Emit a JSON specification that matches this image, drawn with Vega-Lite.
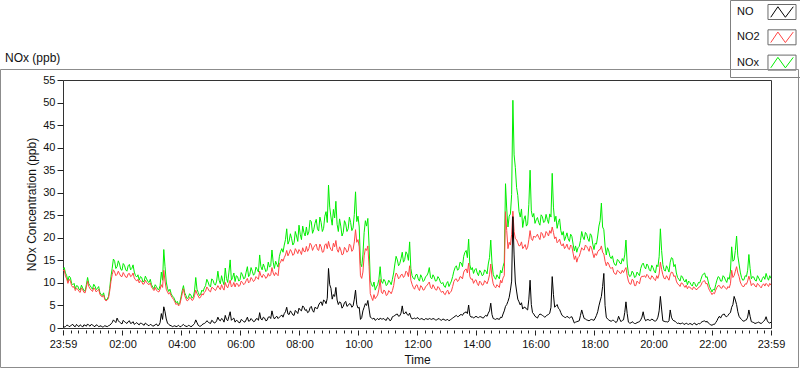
{
  "$schema": "https://vega.github.io/schema/vega-lite/v6.json",
  "autosize": "none",
  "width": 708,
  "height": 248,
  "padding": {"left": 63, "top": 80, "right": 29, "bottom": 41},
  "background": "white",
  "title": {"text": "NOx (ppb)", "anchor": "start", "frame": "group", "dx": -58, "dy": 77, "offset": 0, "baseline": "bottom", "fontSize": 12, "fontWeight": "normal", "font": "Liberation Sans", "color": "#111"},
  "data": {"values": [
    {"m":0,"NOx":13.0,"NO2":12.6,"NO":0.5},{"m":5,"NOx":12.2,"NO2":11.5,"NO":0.3},{"m":10,"NOx":10.4,"NO2":9.9,"NO":0.6},{"m":15,"NOx":11.2,"NO2":10.4,"NO":0.4},{"m":20,"NOx":9.6,"NO2":9.0,"NO":0.8},{"m":25,"NOx":8.7,"NO2":8.3,"NO":0.3},{"m":30,"NOx":9.3,"NO2":8.6,"NO":0.5},{"m":35,"NOx":8.4,"NO2":7.9,"NO":0.7},{"m":40,"NOx":8.9,"NO2":8.5,"NO":0.2},{"m":45,"NOx":8.2,"NO2":7.8,"NO":0.6},
    {"m":50,"NOx":11.2,"NO2":10.4,"NO":0.9},{"m":55,"NOx":9.4,"NO2":8.7,"NO":0.4},{"m":60,"NOx":8.6,"NO2":8.1,"NO":0.7},{"m":65,"NOx":9.3,"NO2":8.6,"NO":0.3},{"m":70,"NOx":8.8,"NO2":8.3,"NO":0.6},{"m":75,"NOx":7.9,"NO2":7.5,"NO":0.4},{"m":80,"NOx":7.2,"NO2":6.9,"NO":0.2},{"m":85,"NOx":6.6,"NO2":6.3,"NO":0.5},{"m":90,"NOx":6.4,"NO2":6.2,"NO":0.3},{"m":95,"NOx":8.8,"NO2":8.2,"NO":0.6},
    {"m":100,"NOx":13.2,"NO2":11.8,"NO":1.2},{"m":105,"NOx":14.8,"NO2":12.4,"NO":1.5},{"m":110,"NOx":13.6,"NO2":11.9,"NO":2.2},{"m":115,"NOx":14.2,"NO2":12.0,"NO":1.3},{"m":120,"NOx":12.8,"NO2":11.4,"NO":0.9},{"m":125,"NOx":13.9,"NO2":11.8,"NO":1.4},{"m":130,"NOx":12.6,"NO2":11.2,"NO":1.0},{"m":135,"NOx":14.1,"NO2":12.1,"NO":1.6},{"m":140,"NOx":13.2,"NO2":11.6,"NO":1.1},{"m":145,"NOx":12.4,"NO2":11.1,"NO":0.8},
    {"m":150,"NOx":11.3,"NO2":10.4,"NO":1.2},{"m":155,"NOx":10.6,"NO2":10.0,"NO":0.7},{"m":160,"NOx":11.2,"NO2":10.3,"NO":1.0},{"m":165,"NOx":10.4,"NO2":9.8,"NO":0.6},{"m":170,"NOx":10.9,"NO2":10.1,"NO":0.9},{"m":175,"NOx":10.1,"NO2":9.6,"NO":0.5},{"m":180,"NOx":9.6,"NO2":9.1,"NO":0.7},{"m":185,"NOx":8.7,"NO2":8.3,"NO":0.5},{"m":190,"NOx":9.2,"NO2":8.4,"NO":0.9},{"m":195,"NOx":8.5,"NO2":8.0,"NO":0.6},
    {"m":200,"NOx":12.4,"NO2":9.6,"NO":3.2},{"m":205,"NOx":17.4,"NO2":12.8,"NO":4.7},{"m":210,"NOx":10.2,"NO2":8.6,"NO":2.0},{"m":215,"NOx":8.1,"NO2":7.5,"NO":0.8},{"m":220,"NOx":7.6,"NO2":7.1,"NO":0.5},{"m":225,"NOx":6.8,"NO2":6.3,"NO":0.4},{"m":230,"NOx":5.6,"NO2":5.2,"NO":0.3},{"m":235,"NOx":5.2,"NO2":4.9,"NO":0.6},{"m":240,"NOx":6.9,"NO2":6.4,"NO":0.3},{"m":245,"NOx":9.4,"NO2":8.7,"NO":0.8},
    {"m":250,"NOx":7.2,"NO2":6.5,"NO":0.4},{"m":255,"NOx":6.8,"NO2":6.2,"NO":0.6},{"m":260,"NOx":7.3,"NO2":6.6,"NO":0.3},{"m":265,"NOx":6.9,"NO2":6.3,"NO":0.7},{"m":270,"NOx":11.2,"NO2":8.4,"NO":1.8},{"m":275,"NOx":7.9,"NO2":7.1,"NO":0.6},{"m":280,"NOx":7.5,"NO2":6.9,"NO":0.4},{"m":285,"NOx":8.1,"NO2":7.3,"NO":0.9},{"m":290,"NOx":9.4,"NO2":8.2,"NO":1.2},{"m":295,"NOx":10.2,"NO2":8.7,"NO":1.4},
    {"m":300,"NOx":9.1,"NO2":8.0,"NO":1.0},{"m":305,"NOx":10.6,"NO2":8.9,"NO":1.5},{"m":310,"NOx":9.5,"NO2":8.3,"NO":1.2},{"m":315,"NOx":12.6,"NO2":9.4,"NO":2.4},{"m":320,"NOx":9.8,"NO2":8.5,"NO":1.6},{"m":325,"NOx":10.4,"NO2":8.9,"NO":1.9},{"m":330,"NOx":13.3,"NO2":10.1,"NO":2.8},{"m":335,"NOx":10.1,"NO2":8.9,"NO":1.6},{"m":340,"NOx":15.1,"NO2":10.6,"NO":3.6},{"m":345,"NOx":11.2,"NO2":9.4,"NO":2.0},
    {"m":350,"NOx":10.3,"NO2":9.1,"NO":1.3},{"m":355,"NOx":11.4,"NO2":9.8,"NO":1.6},{"m":360,"NOx":10.7,"NO2":9.5,"NO":1.2},{"m":365,"NOx":11.8,"NO2":10.1,"NO":1.7},{"m":370,"NOx":11.1,"NO2":9.9,"NO":1.3},{"m":375,"NOx":13.6,"NO2":11.0,"NO":2.4},{"m":380,"NOx":11.9,"NO2":10.3,"NO":1.6},{"m":385,"NOx":12.6,"NO2":10.8,"NO":1.8},{"m":390,"NOx":12.1,"NO2":10.6,"NO":1.5},{"m":395,"NOx":13.0,"NO2":11.1,"NO":2.1},
    {"m":400,"NOx":16.2,"NO2":12.6,"NO":3.4},{"m":405,"NOx":12.9,"NO2":11.2,"NO":1.8},{"m":410,"NOx":13.4,"NO2":11.6,"NO":2.2},{"m":415,"NOx":12.8,"NO2":11.3,"NO":1.7},{"m":420,"NOx":13.5,"NO2":11.5,"NO":2.5},{"m":425,"NOx":17.3,"NO2":13.4,"NO":3.8},{"m":430,"NOx":13.2,"NO2":11.6,"NO":2.0},{"m":435,"NOx":14.1,"NO2":11.9,"NO":2.6},{"m":440,"NOx":15.8,"NO2":14.2,"NO":2.4},{"m":445,"NOx":17.6,"NO2":15.3,"NO":2.9},
    {"m":450,"NOx":18.4,"NO2":15.6,"NO":3.2},{"m":455,"NOx":22.0,"NO2":17.2,"NO":4.6},{"m":460,"NOx":19.3,"NO2":16.6,"NO":3.0},{"m":465,"NOx":19.8,"NO2":16.9,"NO":3.4},{"m":470,"NOx":18.9,"NO2":16.4,"NO":2.8},{"m":475,"NOx":20.4,"NO2":17.1,"NO":3.6},{"m":480,"NOx":22.8,"NO2":17.4,"NO":4.4},{"m":485,"NOx":19.6,"NO2":16.3,"NO":3.8},{"m":490,"NOx":21.2,"NO2":17.0,"NO":4.6},{"m":495,"NOx":22.4,"NO2":18.1,"NO":4.1},
    {"m":500,"NOx":21.3,"NO2":17.6,"NO":3.6},{"m":505,"NOx":23.6,"NO2":18.4,"NO":4.8},{"m":510,"NOx":21.8,"NO2":17.9,"NO":3.5},{"m":515,"NOx":24.1,"NO2":18.6,"NO":4.4},{"m":520,"NOx":21.5,"NO2":17.2,"NO":5.1},{"m":525,"NOx":23.4,"NO2":18.0,"NO":5.8},{"m":530,"NOx":22.1,"NO2":16.9,"NO":6.2},{"m":535,"NOx":25.8,"NO2":18.7,"NO":5.4},{"m":540,"NOx":31.7,"NO2":19.2,"NO":13.2},{"m":545,"NOx":24.6,"NO2":17.4,"NO":8.8},
    {"m":550,"NOx":26.3,"NO2":18.8,"NO":7.4},{"m":555,"NOx":28.1,"NO2":19.4,"NO":9.0},{"m":560,"NOx":21.4,"NO2":16.8,"NO":5.2},{"m":565,"NOx":22.6,"NO2":17.3,"NO":5.6},{"m":570,"NOx":21.2,"NO2":16.4,"NO":4.8},{"m":575,"NOx":23.1,"NO2":17.5,"NO":5.9},{"m":580,"NOx":22.0,"NO2":17.1,"NO":5.0},{"m":585,"NOx":23.4,"NO2":18.3,"NO":5.3},{"m":590,"NOx":22.2,"NO2":17.4,"NO":4.9},{"m":595,"NOx":30.2,"NO2":21.8,"NO":8.4},
    {"m":600,"NOx":24.8,"NO2":19.6,"NO":4.4},{"m":605,"NOx":14.3,"NO2":11.6,"NO":1.9},{"m":610,"NOx":16.2,"NO2":12.4,"NO":3.8},{"m":615,"NOx":23.8,"NO2":17.6,"NO":5.4},{"m":620,"NOx":24.3,"NO2":18.2,"NO":6.1},{"m":625,"NOx":10.6,"NO2":7.6,"NO":2.4},{"m":630,"NOx":9.2,"NO2":6.1,"NO":2.0},{"m":635,"NOx":8.4,"NO2":6.5,"NO":1.7},{"m":640,"NOx":9.6,"NO2":7.3,"NO":2.1},{"m":645,"NOx":13.6,"NO2":10.8,"NO":2.2},
    {"m":650,"NOx":9.9,"NO2":7.6,"NO":2.0},{"m":655,"NOx":10.4,"NO2":8.2,"NO":1.8},{"m":660,"NOx":9.7,"NO2":7.4,"NO":2.3},{"m":665,"NOx":10.2,"NO2":8.0,"NO":1.6},{"m":670,"NOx":10.8,"NO2":8.3,"NO":2.5},{"m":675,"NOx":14.2,"NO2":11.2,"NO":2.8},{"m":680,"NOx":15.1,"NO2":11.8,"NO":3.1},{"m":685,"NOx":14.3,"NO2":11.2,"NO":2.7},{"m":690,"NOx":16.8,"NO2":11.9,"NO":4.9},{"m":695,"NOx":15.2,"NO2":11.6,"NO":3.2},
    {"m":700,"NOx":16.4,"NO2":12.3,"NO":3.0},{"m":705,"NOx":19.1,"NO2":13.8,"NO":3.3},{"m":710,"NOx":11.6,"NO2":9.7,"NO":2.0},{"m":715,"NOx":10.8,"NO2":8.6,"NO":2.2},{"m":720,"NOx":11.9,"NO2":9.6,"NO":2.3},{"m":725,"NOx":10.4,"NO2":8.3,"NO":1.9},{"m":730,"NOx":11.2,"NO2":9.1,"NO":2.1},{"m":735,"NOx":10.6,"NO2":8.5,"NO":1.8},{"m":740,"NOx":11.6,"NO2":9.4,"NO":2.0},{"m":745,"NOx":13.4,"NO2":10.2,"NO":2.1},
    {"m":750,"NOx":10.9,"NO2":8.7,"NO":1.9},{"m":755,"NOx":11.3,"NO2":9.1,"NO":2.0},{"m":760,"NOx":10.5,"NO2":8.4,"NO":1.8},{"m":765,"NOx":11.0,"NO2":8.9,"NO":2.1},{"m":770,"NOx":9.8,"NO2":7.9,"NO":1.7},{"m":775,"NOx":9.3,"NO2":7.6,"NO":1.9},{"m":780,"NOx":9.9,"NO2":8.1,"NO":1.8},{"m":785,"NOx":9.2,"NO2":7.5,"NO":1.6},{"m":790,"NOx":10.4,"NO2":8.2,"NO":2.0},{"m":795,"NOx":12.6,"NO2":10.3,"NO":2.4},
    {"m":800,"NOx":13.8,"NO2":10.9,"NO":2.8},{"m":805,"NOx":13.1,"NO2":10.6,"NO":2.6},{"m":810,"NOx":14.4,"NO2":11.3,"NO":3.0},{"m":815,"NOx":15.9,"NO2":12.4,"NO":3.3},{"m":820,"NOx":17.2,"NO2":13.1,"NO":3.6},{"m":825,"NOx":19.7,"NO2":14.4,"NO":5.1},{"m":830,"NOx":12.9,"NO2":10.8,"NO":2.4},{"m":835,"NOx":12.1,"NO2":9.9,"NO":2.2},{"m":840,"NOx":13.2,"NO2":10.7,"NO":2.6},{"m":845,"NOx":11.6,"NO2":9.4,"NO":2.3},
    {"m":850,"NOx":12.4,"NO2":10.1,"NO":2.5},{"m":855,"NOx":11.8,"NO2":9.6,"NO":2.2},{"m":860,"NOx":12.6,"NO2":10.2,"NO":2.8},{"m":865,"NOx":14.2,"NO2":10.6,"NO":3.3},{"m":870,"NOx":19.5,"NO2":14.2,"NO":5.5},{"m":875,"NOx":11.9,"NO2":9.8,"NO":2.1},{"m":880,"NOx":10.8,"NO2":8.9,"NO":1.9},{"m":885,"NOx":11.3,"NO2":9.3,"NO":2.0},{"m":890,"NOx":12.8,"NO2":10.6,"NO":2.4},{"m":895,"NOx":13.6,"NO2":11.1,"NO":3.1},
    {"m":900,"NOx":32.0,"NO2":25.8,"NO":4.8},{"m":905,"NOx":22.4,"NO2":17.6,"NO":5.9},{"m":910,"NOx":25.3,"NO2":18.4,"NO":8.4},{"m":915,"NOx":50.5,"NO2":25.9,"NO":24.7},{"m":920,"NOx":35.6,"NO2":19.8,"NO":10.2},{"m":925,"NOx":29.4,"NO2":18.9,"NO":6.4},{"m":930,"NOx":24.6,"NO2":18.3,"NO":5.1},{"m":935,"NOx":22.3,"NO2":17.6,"NO":4.2},{"m":940,"NOx":24.9,"NO2":18.5,"NO":4.6},{"m":945,"NOx":23.1,"NO2":17.9,"NO":4.0},
    {"m":950,"NOx":35.0,"NO2":21.6,"NO":10.6},{"m":955,"NOx":24.6,"NO2":19.4,"NO":3.4},{"m":960,"NOx":23.2,"NO2":20.1,"NO":2.6},{"m":965,"NOx":24.5,"NO2":20.8,"NO":2.2},{"m":970,"NOx":22.8,"NO2":19.6,"NO":3.1},{"m":975,"NOx":24.7,"NO2":20.9,"NO":2.8},{"m":980,"NOx":23.6,"NO2":20.2,"NO":2.4},{"m":985,"NOx":24.1,"NO2":21.0,"NO":2.9},{"m":990,"NOx":25.3,"NO2":21.6,"NO":3.3},{"m":995,"NOx":34.3,"NO2":22.4,"NO":11.4},
    {"m":1000,"NOx":23.6,"NO2":19.8,"NO":4.6},{"m":1005,"NOx":22.1,"NO2":18.9,"NO":5.2},{"m":1010,"NOx":24.2,"NO2":19.7,"NO":4.1},{"m":1015,"NOx":20.6,"NO2":18.2,"NO":2.8},{"m":1020,"NOx":19.4,"NO2":17.6,"NO":2.4},{"m":1025,"NOx":21.1,"NO2":18.6,"NO":2.6},{"m":1030,"NOx":19.2,"NO2":17.4,"NO":2.2},{"m":1035,"NOx":20.3,"NO2":18.1,"NO":2.5},{"m":1040,"NOx":17.1,"NO2":15.2,"NO":1.1},{"m":1045,"NOx":16.8,"NO2":14.6,"NO":1.4},
    {"m":1050,"NOx":18.1,"NO2":15.9,"NO":1.6},{"m":1055,"NOx":21.4,"NO2":17.8,"NO":4.0},{"m":1060,"NOx":19.6,"NO2":17.3,"NO":2.1},{"m":1065,"NOx":20.8,"NO2":18.1,"NO":1.8},{"m":1070,"NOx":19.2,"NO2":17.0,"NO":1.6},{"m":1075,"NOx":20.5,"NO2":17.8,"NO":1.9},{"m":1080,"NOx":17.4,"NO2":15.6,"NO":1.7},{"m":1085,"NOx":18.6,"NO2":16.1,"NO":2.8},{"m":1090,"NOx":22.6,"NO2":17.3,"NO":4.9},{"m":1095,"NOx":27.7,"NO2":18.2,"NO":7.0},
    {"m":1100,"NOx":21.8,"NO2":16.4,"NO":12.1},{"m":1105,"NOx":16.2,"NO2":13.8,"NO":2.4},{"m":1110,"NOx":17.1,"NO2":14.2,"NO":1.8},{"m":1115,"NOx":15.4,"NO2":13.2,"NO":1.5},{"m":1120,"NOx":14.6,"NO2":12.4,"NO":1.7},{"m":1125,"NOx":13.9,"NO2":11.9,"NO":1.2},{"m":1130,"NOx":15.0,"NO2":12.6,"NO":2.6},{"m":1135,"NOx":14.2,"NO2":12.1,"NO":1.4},{"m":1140,"NOx":14.8,"NO2":12.3,"NO":1.8},{"m":1145,"NOx":19.5,"NO2":13.4,"NO":5.8},
    {"m":1150,"NOx":12.1,"NO2":10.4,"NO":1.3},{"m":1155,"NOx":11.6,"NO2":9.7,"NO":1.1},{"m":1160,"NOx":12.2,"NO2":10.6,"NO":1.2},{"m":1165,"NOx":11.4,"NO2":9.4,"NO":1.0},{"m":1170,"NOx":12.0,"NO2":10.1,"NO":1.3},{"m":1175,"NOx":13.2,"NO2":11.1,"NO":1.8},{"m":1180,"NOx":14.4,"NO2":11.4,"NO":3.6},{"m":1185,"NOx":13.1,"NO2":11.2,"NO":1.6},{"m":1190,"NOx":13.8,"NO2":11.6,"NO":1.9},{"m":1195,"NOx":12.6,"NO2":10.8,"NO":1.7},
    {"m":1200,"NOx":13.4,"NO2":11.3,"NO":1.8},{"m":1205,"NOx":12.2,"NO2":10.5,"NO":1.5},{"m":1210,"NOx":13.6,"NO2":11.0,"NO":2.4},{"m":1215,"NOx":22.0,"NO2":14.6,"NO":7.0},{"m":1220,"NOx":14.1,"NO2":11.8,"NO":1.6},{"m":1225,"NOx":12.6,"NO2":10.9,"NO":1.4},{"m":1230,"NOx":13.2,"NO2":11.1,"NO":1.3},{"m":1235,"NOx":14.6,"NO2":11.8,"NO":4.0},{"m":1240,"NOx":15.4,"NO2":12.3,"NO":1.8},{"m":1245,"NOx":14.1,"NO2":11.6,"NO":1.5},
    {"m":1250,"NOx":11.2,"NO2":9.8,"NO":1.0},{"m":1255,"NOx":10.4,"NO2":9.2,"NO":0.9},{"m":1260,"NOx":11.3,"NO2":9.9,"NO":1.1},{"m":1265,"NOx":10.2,"NO2":9.0,"NO":0.8},{"m":1270,"NOx":9.6,"NO2":8.7,"NO":0.9},{"m":1275,"NOx":10.1,"NO2":9.0,"NO":1.0},{"m":1280,"NOx":9.3,"NO2":8.5,"NO":0.7},{"m":1285,"NOx":9.9,"NO2":8.9,"NO":1.1},{"m":1290,"NOx":9.4,"NO2":8.6,"NO":0.8},{"m":1295,"NOx":10.0,"NO2":9.1,"NO":0.9},
    {"m":1300,"NOx":11.6,"NO2":10.1,"NO":1.4},{"m":1305,"NOx":12.2,"NO2":10.5,"NO":1.6},{"m":1310,"NOx":11.4,"NO2":9.9,"NO":1.5},{"m":1315,"NOx":9.2,"NO2":8.3,"NO":0.9},{"m":1320,"NOx":8.0,"NO2":7.4,"NO":0.6},{"m":1325,"NOx":8.4,"NO2":7.6,"NO":0.8},{"m":1330,"NOx":10.6,"NO2":9.0,"NO":1.6},{"m":1335,"NOx":11.2,"NO2":9.4,"NO":2.6},{"m":1340,"NOx":10.4,"NO2":8.8,"NO":2.8},{"m":1345,"NOx":11.3,"NO2":9.2,"NO":3.1},
    {"m":1350,"NOx":10.1,"NO2":8.6,"NO":2.5},{"m":1355,"NOx":10.8,"NO2":8.9,"NO":3.2},{"m":1360,"NOx":18.0,"NO2":12.8,"NO":4.6},{"m":1365,"NOx":15.1,"NO2":11.6,"NO":7.0},{"m":1370,"NOx":20.4,"NO2":13.6,"NO":5.2},{"m":1375,"NOx":14.2,"NO2":11.4,"NO":2.6},{"m":1380,"NOx":11.2,"NO2":9.6,"NO":1.9},{"m":1385,"NOx":10.7,"NO2":9.2,"NO":1.5},{"m":1390,"NOx":11.4,"NO2":9.7,"NO":1.8},{"m":1395,"NOx":16.3,"NO2":11.5,"NO":4.0},
    {"m":1400,"NOx":10.9,"NO2":9.4,"NO":1.4},{"m":1405,"NOx":11.3,"NO2":9.8,"NO":1.2},{"m":1410,"NOx":10.4,"NO2":9.1,"NO":1.1},{"m":1415,"NOx":11.1,"NO2":9.6,"NO":1.3},{"m":1420,"NOx":10.2,"NO2":8.9,"NO":1.0},{"m":1425,"NOx":11.4,"NO2":9.8,"NO":1.5},{"m":1430,"NOx":12.1,"NO2":9.9,"NO":2.5},{"m":1435,"NOx":10.6,"NO2":9.2,"NO":1.2},{"m":1440,"NOx":11.0,"NO2":9.5,"NO":1.3},
    {"m":2.5,"NOx":13.4,"NO2":12.9,"NO":0.2},{"m":7.5,"NOx":11.6,"NO2":10.9,"NO":0.6},{"m":12.5,"NOx":11.5,"NO2":10.8,"NO":0.3},{"m":17.5,"NOx":9.9,"NO2":9.4,"NO":0.7},{"m":22.5,"NOx":9.9,"NO2":9.2,"NO":0.4},{"m":27.5,"NOx":9.4,"NO2":8.8,"NO":0.8},{"m":32.5,"NOx":8.6,"NO2":8.1,"NO":0.3},{"m":37.5,"NOx":9.5,"NO2":8.9,"NO":0.5},{"m":42.5,"NOx":8.3,"NO2":7.9,"NO":0.7},{"m":47.5,"NOx":9.6,"NO2":9.0,"NO":0.4},
    {"m":52.5,"NOx":9.8,"NO2":9.2,"NO":0.6},{"m":57.5,"NOx":9.0,"NO2":8.4,"NO":0.8},{"m":62.5,"NOx":9.7,"NO2":8.9,"NO":0.4},{"m":67.5,"NOx":8.5,"NO2":8.0,"NO":0.7},{"m":72.5,"NOx":9.2,"NO2":8.6,"NO":0.3},{"m":77.5,"NOx":7.4,"NO2":7.1,"NO":0.5},{"m":82.5,"NOx":7.8,"NO2":7.3,"NO":0.3},{"m":87.5,"NOx":6.2,"NO2":6.0,"NO":0.4},{"m":92.5,"NOx":7.0,"NO2":6.6,"NO":0.5},{"m":97.5,"NOx":11.4,"NO2":10.3,"NO":0.9},
    {"m":102.5,"NOx":15.3,"NO2":12.9,"NO":1.8},{"m":107.5,"NOx":13.2,"NO2":11.6,"NO":1.2},{"m":112.5,"NOx":14.9,"NO2":12.6,"NO":1.6},{"m":117.5,"NOx":13.0,"NO2":11.5,"NO":1.1},{"m":122.5,"NOx":14.3,"NO2":12.3,"NO":1.7},{"m":127.5,"NOx":12.9,"NO2":11.3,"NO":1.2},{"m":132.5,"NOx":13.8,"NO2":12.0,"NO":1.4},{"m":137.5,"NOx":12.9,"NO2":11.4,"NO":1.0},{"m":142.5,"NOx":14.0,"NO2":12.2,"NO":1.4},{"m":147.5,"NOx":11.6,"NO2":10.7,"NO":1.0},
    {"m":152.5,"NOx":11.8,"NO2":10.8,"NO":0.9},{"m":157.5,"NOx":11.4,"NO2":10.5,"NO":1.1},{"m":162.5,"NOx":10.2,"NO2":9.7,"NO":0.8},{"m":167.5,"NOx":11.5,"NO2":10.6,"NO":1.1},{"m":172.5,"NOx":10.3,"NO2":9.8,"NO":0.6},{"m":177.5,"NOx":10.8,"NO2":10.0,"NO":0.8},{"m":182.5,"NOx":9.1,"NO2":8.7,"NO":0.4},{"m":187.5,"NOx":9.6,"NO2":9.0,"NO":0.7},{"m":192.5,"NOx":8.6,"NO2":8.1,"NO":0.5},{"m":197.5,"NOx":9.4,"NO2":8.6,"NO":1.2},
    {"m":202.5,"NOx":10.6,"NO2":9.0,"NO":1.9},{"m":207.5,"NOx":13.6,"NO2":10.4,"NO":3.6},{"m":212.5,"NOx":8.8,"NO2":8.0,"NO":1.1},{"m":217.5,"NOx":8.6,"NO2":7.9,"NO":0.6},{"m":222.5,"NOx":7.1,"NO2":6.7,"NO":0.3},{"m":227.5,"NOx":6.2,"NO2":5.8,"NO":0.5},{"m":232.5,"NOx":5.9,"NO2":5.5,"NO":0.4},{"m":237.5,"NOx":5.6,"NO2":5.2,"NO":0.3},{"m":242.5,"NOx":8.3,"NO2":7.6,"NO":0.6},{"m":247.5,"NOx":7.8,"NO2":7.2,"NO":0.5},
    {"m":252.5,"NOx":6.5,"NO2":6.0,"NO":0.3},{"m":257.5,"NOx":7.6,"NO2":6.8,"NO":0.5},{"m":262.5,"NOx":6.6,"NO2":6.1,"NO":0.4},{"m":267.5,"NOx":8.2,"NO2":7.2,"NO":1.0},{"m":272.5,"NOx":8.6,"NO2":7.6,"NO":1.2},{"m":277.5,"NOx":7.2,"NO2":6.6,"NO":0.4},{"m":282.5,"NOx":8.4,"NO2":7.6,"NO":0.7},{"m":287.5,"NOx":8.9,"NO2":7.9,"NO":1.0},{"m":292.5,"NOx":10.8,"NO2":9.1,"NO":1.6},{"m":297.5,"NOx":9.4,"NO2":8.2,"NO":1.1},
    {"m":302.5,"NOx":10.9,"NO2":9.0,"NO":1.7},{"m":307.5,"NOx":9.8,"NO2":8.6,"NO":1.1},{"m":312.5,"NOx":10.4,"NO2":8.8,"NO":1.6},{"m":317.5,"NOx":10.6,"NO2":8.9,"NO":1.8},{"m":322.5,"NOx":11.6,"NO2":9.6,"NO":2.1},{"m":327.5,"NOx":9.6,"NO2":8.4,"NO":1.3},{"m":332.5,"NOx":11.0,"NO2":9.3,"NO":1.9},{"m":337.5,"NOx":12.4,"NO2":9.8,"NO":2.6},{"m":342.5,"NOx":10.6,"NO2":9.1,"NO":1.7},{"m":347.5,"NOx":12.2,"NO2":10.1,"NO":2.2},
    {"m":352.5,"NOx":11.6,"NO2":9.9,"NO":1.7},{"m":357.5,"NOx":10.4,"NO2":9.2,"NO":1.2},{"m":362.5,"NOx":12.3,"NO2":10.4,"NO":1.9},{"m":367.5,"NOx":10.9,"NO2":9.6,"NO":1.4},{"m":372.5,"NOx":12.4,"NO2":10.5,"NO":1.8},{"m":377.5,"NOx":11.4,"NO2":10.0,"NO":1.5},{"m":382.5,"NOx":13.4,"NO2":11.2,"NO":2.1},{"m":387.5,"NOx":11.7,"NO2":10.3,"NO":1.4},{"m":392.5,"NOx":13.5,"NO2":11.4,"NO":2.0},{"m":397.5,"NOx":12.4,"NO2":10.8,"NO":1.7},
    {"m":402.5,"NOx":13.6,"NO2":11.6,"NO":2.0},{"m":407.5,"NOx":14.2,"NO2":11.9,"NO":2.4},{"m":412.5,"NOx":12.5,"NO2":11.0,"NO":1.6},{"m":417.5,"NOx":14.6,"NO2":12.1,"NO":2.4},{"m":422.5,"NOx":13.8,"NO2":11.8,"NO":2.1},{"m":427.5,"NOx":14.6,"NO2":12.2,"NO":2.6},{"m":432.5,"NOx":14.8,"NO2":12.3,"NO":2.4},{"m":437.5,"NOx":13.5,"NO2":11.6,"NO":2.1},{"m":442.5,"NOx":16.9,"NO2":14.6,"NO":2.6},{"m":447.5,"NOx":16.8,"NO2":14.8,"NO":2.4},
    {"m":452.5,"NOx":19.6,"NO2":16.2,"NO":3.6},{"m":457.5,"NOx":18.6,"NO2":16.0,"NO":3.1},{"m":462.5,"NOx":20.9,"NO2":17.4,"NO":3.8},{"m":467.5,"NOx":18.4,"NO2":16.1,"NO":2.9},{"m":472.5,"NOx":21.4,"NO2":17.6,"NO":3.9},{"m":477.5,"NOx":19.2,"NO2":16.5,"NO":3.2},{"m":482.5,"NOx":20.8,"NO2":17.0,"NO":4.0},{"m":487.5,"NOx":22.6,"NO2":17.8,"NO":4.9},{"m":492.5,"NOx":20.4,"NO2":16.9,"NO":3.9},{"m":497.5,"NOx":20.6,"NO2":17.0,"NO":3.4},
    {"m":502.5,"NOx":23.9,"NO2":18.8,"NO":4.5},{"m":507.5,"NOx":21.0,"NO2":17.2,"NO":3.9},{"m":512.5,"NOx":23.2,"NO2":18.3,"NO":4.6},{"m":517.5,"NOx":22.0,"NO2":17.4,"NO":4.3},{"m":522.5,"NOx":24.6,"NO2":18.6,"NO":5.6},{"m":527.5,"NOx":21.4,"NO2":16.8,"NO":5.0},{"m":532.5,"NOx":24.8,"NO2":18.4,"NO":6.0},{"m":537.5,"NOx":23.4,"NO2":17.6,"NO":6.6},{"m":542.5,"NOx":26.8,"NO2":18.0,"NO":9.6},{"m":547.5,"NOx":22.8,"NO2":17.1,"NO":6.4},
    {"m":552.5,"NOx":24.4,"NO2":18.0,"NO":7.0},{"m":557.5,"NOx":23.0,"NO2":17.4,"NO":6.2},{"m":562.5,"NOx":24.2,"NO2":18.0,"NO":5.8},{"m":567.5,"NOx":20.4,"NO2":16.2,"NO":4.4},{"m":572.5,"NOx":23.8,"NO2":17.9,"NO":5.6},{"m":577.5,"NOx":21.4,"NO2":16.8,"NO":4.8},{"m":582.5,"NOx":24.6,"NO2":18.6,"NO":5.4},{"m":587.5,"NOx":21.6,"NO2":17.0,"NO":4.6},{"m":592.5,"NOx":25.2,"NO2":19.1,"NO":6.4},{"m":597.5,"NOx":23.6,"NO2":19.0,"NO":5.2},
    {"m":602.5,"NOx":22.4,"NO2":18.0,"NO":4.6},{"m":607.5,"NOx":13.6,"NO2":11.0,"NO":2.3},{"m":612.5,"NOx":21.2,"NO2":16.0,"NO":4.6},{"m":617.5,"NOx":22.6,"NO2":17.2,"NO":5.0},{"m":622.5,"NOx":18.4,"NO2":13.6,"NO":4.2},{"m":627.5,"NOx":9.6,"NO2":6.8,"NO":2.2},{"m":632.5,"NOx":10.2,"NO2":7.4,"NO":2.2},{"m":637.5,"NOx":9.1,"NO2":6.9,"NO":1.9},{"m":642.5,"NOx":10.8,"NO2":8.6,"NO":1.8},{"m":647.5,"NOx":10.4,"NO2":8.0,"NO":2.0},
    {"m":652.5,"NOx":10.8,"NO2":8.4,"NO":2.1},{"m":657.5,"NOx":9.4,"NO2":7.2,"NO":1.7},{"m":662.5,"NOx":10.6,"NO2":8.3,"NO":2.1},{"m":667.5,"NOx":9.6,"NO2":7.6,"NO":1.8},{"m":672.5,"NOx":12.2,"NO2":9.4,"NO":2.6},{"m":677.5,"NOx":15.9,"NO2":12.2,"NO":3.0},{"m":682.5,"NOx":13.8,"NO2":10.9,"NO":2.6},{"m":687.5,"NOx":15.4,"NO2":11.8,"NO":3.3},{"m":692.5,"NOx":14.6,"NO2":11.2,"NO":3.2},{"m":697.5,"NOx":16.9,"NO2":12.6,"NO":3.6},
    {"m":702.5,"NOx":15.0,"NO2":11.4,"NO":2.8},{"m":707.5,"NOx":13.2,"NO2":10.6,"NO":2.4},{"m":712.5,"NOx":11.0,"NO2":9.0,"NO":2.1},{"m":717.5,"NOx":11.8,"NO2":9.4,"NO":2.0},{"m":722.5,"NOx":10.9,"NO2":8.8,"NO":2.2},{"m":727.5,"NOx":11.8,"NO2":9.4,"NO":2.0},{"m":732.5,"NOx":10.3,"NO2":8.4,"NO":1.9},{"m":737.5,"NOx":11.4,"NO2":9.2,"NO":2.1},{"m":742.5,"NOx":12.2,"NO2":9.8,"NO":1.9},{"m":747.5,"NOx":11.2,"NO2":9.0,"NO":2.0},
    {"m":752.5,"NOx":11.8,"NO2":9.6,"NO":2.1},{"m":757.5,"NOx":10.4,"NO2":8.5,"NO":1.8},{"m":762.5,"NOx":11.4,"NO2":9.2,"NO":2.0},{"m":767.5,"NOx":10.2,"NO2":8.3,"NO":1.8},{"m":772.5,"NOx":10.1,"NO2":8.2,"NO":2.0},{"m":777.5,"NOx":9.0,"NO2":7.4,"NO":1.7},{"m":782.5,"NOx":10.3,"NO2":8.4,"NO":1.9},{"m":787.5,"NOx":9.8,"NO2":7.9,"NO":1.8},{"m":792.5,"NOx":11.4,"NO2":9.2,"NO":2.2},{"m":797.5,"NOx":13.4,"NO2":10.8,"NO":2.6},
    {"m":802.5,"NOx":12.8,"NO2":10.3,"NO":2.5},{"m":807.5,"NOx":14.6,"NO2":11.4,"NO":2.9},{"m":812.5,"NOx":13.6,"NO2":10.9,"NO":2.8},{"m":817.5,"NOx":16.8,"NO2":12.9,"NO":3.4},{"m":822.5,"NOx":15.6,"NO2":12.2,"NO":3.2},{"m":827.5,"NOx":14.0,"NO2":11.4,"NO":2.8},{"m":832.5,"NOx":13.4,"NO2":10.9,"NO":2.5},{"m":837.5,"NOx":12.9,"NO2":10.5,"NO":2.4},{"m":842.5,"NOx":12.2,"NO2":9.9,"NO":2.4},{"m":847.5,"NOx":12.8,"NO2":10.4,"NO":2.5},
    {"m":852.5,"NOx":11.6,"NO2":9.5,"NO":2.3},{"m":857.5,"NOx":12.9,"NO2":10.5,"NO":2.6},{"m":862.5,"NOx":12.0,"NO2":9.8,"NO":2.6},{"m":867.5,"NOx":15.6,"NO2":11.8,"NO":3.8},{"m":872.5,"NOx":14.4,"NO2":11.3,"NO":3.0},{"m":877.5,"NOx":11.2,"NO2":9.2,"NO":2.0},{"m":882.5,"NOx":11.8,"NO2":9.6,"NO":2.1},{"m":887.5,"NOx":10.9,"NO2":9.0,"NO":1.9},{"m":892.5,"NOx":12.2,"NO2":10.0,"NO":2.3},{"m":897.5,"NOx":14.6,"NO2":11.6,"NO":3.8},
    {"m":902.5,"NOx":26.4,"NO2":21.6,"NO":5.2},{"m":907.5,"NOx":24.8,"NO2":19.0,"NO":6.8},{"m":912.5,"NOx":29.6,"NO2":20.8,"NO":10.4},{"m":917.5,"NOx":38.4,"NO2":21.4,"NO":16.2},{"m":922.5,"NOx":31.2,"NO2":19.6,"NO":8.2},{"m":927.5,"NOx":25.8,"NO2":18.2,"NO":5.8},{"m":932.5,"NOx":26.4,"NO2":19.1,"NO":5.6},{"m":937.5,"NOx":24.1,"NO2":18.0,"NO":4.6},{"m":942.5,"NOx":22.6,"NO2":17.4,"NO":4.2},{"m":947.5,"NOx":27.4,"NO2":19.6,"NO":6.4},
    {"m":952.5,"NOx":26.0,"NO2":19.8,"NO":5.2},{"m":957.5,"NOx":25.4,"NO2":20.4,"NO":3.1},{"m":962.5,"NOx":24.0,"NO2":20.3,"NO":2.4},{"m":967.5,"NOx":23.4,"NO2":20.1,"NO":2.8},{"m":972.5,"NOx":25.1,"NO2":21.2,"NO":3.0},{"m":977.5,"NOx":23.4,"NO2":20.0,"NO":2.6},{"m":982.5,"NOx":25.2,"NO2":21.4,"NO":2.6},{"m":987.5,"NOx":23.2,"NO2":20.4,"NO":3.0},{"m":992.5,"NOx":24.6,"NO2":21.0,"NO":4.6},{"m":997.5,"NOx":26.8,"NO2":21.2,"NO":7.4},
    {"m":1002.5,"NOx":24.8,"NO2":20.2,"NO":4.9},{"m":1007.5,"NOx":23.4,"NO2":19.2,"NO":4.4},{"m":1012.5,"NOx":21.6,"NO2":18.6,"NO":3.4},{"m":1017.5,"NOx":21.4,"NO2":18.7,"NO":2.6},{"m":1022.5,"NOx":20.2,"NO2":18.0,"NO":2.3},{"m":1027.5,"NOx":19.8,"NO2":17.6,"NO":2.4},{"m":1032.5,"NOx":20.8,"NO2":18.4,"NO":2.4},{"m":1037.5,"NOx":18.6,"NO2":16.6,"NO":1.8},{"m":1042.5,"NOx":18.2,"NO2":16.0,"NO":1.3},{"m":1047.5,"NOx":17.8,"NO2":15.6,"NO":1.5},
    {"m":1052.5,"NOx":19.4,"NO2":16.8,"NO":2.8},{"m":1057.5,"NOx":20.2,"NO2":17.4,"NO":3.0},{"m":1062.5,"NOx":21.2,"NO2":18.4,"NO":2.0},{"m":1067.5,"NOx":19.8,"NO2":17.6,"NO":1.7},{"m":1072.5,"NOx":20.9,"NO2":18.2,"NO":1.8},{"m":1077.5,"NOx":18.6,"NO2":16.6,"NO":1.8},{"m":1082.5,"NOx":18.8,"NO2":16.5,"NO":2.2},{"m":1087.5,"NOx":20.4,"NO2":16.9,"NO":3.6},{"m":1092.5,"NOx":23.8,"NO2":17.4,"NO":6.0},{"m":1097.5,"NOx":22.4,"NO2":16.8,"NO":9.2},
    {"m":1102.5,"NOx":18.2,"NO2":14.8,"NO":5.0},{"m":1107.5,"NOx":17.8,"NO2":14.6,"NO":2.0},{"m":1112.5,"NOx":15.8,"NO2":13.4,"NO":1.6},{"m":1117.5,"NOx":16.0,"NO2":13.5,"NO":1.7},{"m":1122.5,"NOx":14.0,"NO2":12.0,"NO":1.4},{"m":1127.5,"NOx":15.2,"NO2":12.8,"NO":1.6},{"m":1132.5,"NOx":14.4,"NO2":12.2,"NO":1.9},{"m":1137.5,"NOx":15.4,"NO2":12.8,"NO":1.7},{"m":1142.5,"NOx":16.2,"NO2":12.9,"NO":3.4},{"m":1147.5,"NOx":14.2,"NO2":11.6,"NO":3.2},
    {"m":1152.5,"NOx":11.4,"NO2":9.8,"NO":1.1},{"m":1157.5,"NOx":12.6,"NO2":10.8,"NO":1.4},{"m":1162.5,"NOx":11.2,"NO2":9.4,"NO":1.0},{"m":1167.5,"NOx":12.4,"NO2":10.4,"NO":1.2},{"m":1172.5,"NOx":11.6,"NO2":9.8,"NO":1.4},{"m":1177.5,"NOx":14.0,"NO2":11.5,"NO":2.4},{"m":1182.5,"NOx":13.6,"NO2":11.6,"NO":2.2},{"m":1187.5,"NOx":14.2,"NO2":11.9,"NO":1.8},{"m":1192.5,"NOx":12.9,"NO2":11.0,"NO":1.7},{"m":1197.5,"NOx":13.9,"NO2":11.6,"NO":2.0},
    {"m":1202.5,"NOx":12.6,"NO2":10.8,"NO":1.6},{"m":1207.5,"NOx":14.0,"NO2":11.6,"NO":1.8},{"m":1212.5,"NOx":15.8,"NO2":12.0,"NO":3.8},{"m":1217.5,"NOx":17.2,"NO2":13.0,"NO":4.2},{"m":1222.5,"NOx":12.9,"NO2":11.0,"NO":1.5},{"m":1227.5,"NOx":13.8,"NO2":11.6,"NO":1.4},{"m":1232.5,"NOx":12.4,"NO2":10.6,"NO":1.6},{"m":1237.5,"NOx":15.6,"NO2":12.4,"NO":2.4},{"m":1242.5,"NOx":13.6,"NO2":11.4,"NO":1.6},{"m":1247.5,"NOx":12.2,"NO2":10.4,"NO":1.2},
    {"m":1252.5,"NOx":10.8,"NO2":9.6,"NO":1.1},{"m":1257.5,"NOx":11.6,"NO2":10.0,"NO":1.0},{"m":1262.5,"NOx":10.6,"NO2":9.4,"NO":0.9},{"m":1267.5,"NOx":10.8,"NO2":9.5,"NO":1.1},{"m":1272.5,"NOx":10.4,"NO2":9.2,"NO":0.8},{"m":1277.5,"NOx":9.6,"NO2":8.8,"NO":0.9},{"m":1282.5,"NOx":10.2,"NO2":9.1,"NO":1.0},{"m":1287.5,"NOx":9.2,"NO2":8.5,"NO":0.7},{"m":1292.5,"NOx":10.1,"NO2":9.0,"NO":1.0},{"m":1297.5,"NOx":10.8,"NO2":9.5,"NO":1.2},
    {"m":1302.5,"NOx":12.0,"NO2":10.4,"NO":1.5},{"m":1307.5,"NOx":11.2,"NO2":9.8,"NO":1.3},{"m":1312.5,"NOx":10.2,"NO2":9.0,"NO":1.1},{"m":1317.5,"NOx":8.6,"NO2":7.9,"NO":0.7},{"m":1322.5,"NOx":8.6,"NO2":7.8,"NO":0.8},{"m":1327.5,"NOx":9.6,"NO2":8.4,"NO":1.2},{"m":1332.5,"NOx":11.4,"NO2":9.4,"NO":2.2},{"m":1337.5,"NOx":10.4,"NO2":8.9,"NO":2.2},{"m":1342.5,"NOx":11.6,"NO2":9.4,"NO":3.0},{"m":1347.5,"NOx":10.6,"NO2":8.8,"NO":2.6},
    {"m":1352.5,"NOx":11.2,"NO2":9.2,"NO":2.8},{"m":1357.5,"NOx":12.6,"NO2":9.8,"NO":3.4},{"m":1362.5,"NOx":14.8,"NO2":11.2,"NO":5.2},{"m":1367.5,"NOx":17.2,"NO2":12.6,"NO":6.2},{"m":1372.5,"NOx":16.0,"NO2":12.2,"NO":3.6},{"m":1377.5,"NOx":12.4,"NO2":10.2,"NO":2.2},{"m":1382.5,"NOx":10.6,"NO2":9.2,"NO":1.6},{"m":1387.5,"NOx":11.6,"NO2":9.8,"NO":1.7},{"m":1392.5,"NOx":12.8,"NO2":10.4,"NO":2.4},{"m":1397.5,"NOx":13.2,"NO2":10.6,"NO":2.6},
    {"m":1402.5,"NOx":11.4,"NO2":9.8,"NO":1.3},{"m":1407.5,"NOx":10.6,"NO2":9.3,"NO":1.0},{"m":1412.5,"NOx":11.6,"NO2":9.9,"NO":1.2},{"m":1417.5,"NOx":10.5,"NO2":9.2,"NO":1.1},{"m":1422.5,"NOx":11.0,"NO2":9.5,"NO":1.2},{"m":1427.5,"NOx":10.8,"NO2":9.3,"NO":1.8},{"m":1432.5,"NOx":11.2,"NO2":9.6,"NO":1.6},{"m":1437.5,"NOx":11.6,"NO2":9.9,"NO":1.1}
  ]},
  "resolve": {"axis": {"x": "independent"}},
  "layer": [
    {
      "mark": {"type": "line", "strokeWidth": 1, "clip": true},
      "encoding": {
        "x": {"field": "m", "type": "quantitative", "scale": {"domain": [0, 1440], "nice": false, "zero": false},
          "axis": {"orient": "bottom", "values": [0,121,241,361,481,601,721,841,961,1081,1201,1321,1440], "tickCount": 20,
            "labelExpr": "timeFormat(datetime(2020,0,1,23,59+datum.value),'%H:%M')",
            "title": "Time", "tickSize": 5, "offset": 2, "labelPadding": 3, "titlePadding": 5, "labelFlush": false, "labelOverlap": false}},
        "y": {"field": "NOx", "type": "quantitative", "scale": {"domain": [0, 55], "nice": false},
          "axis": {"values": [0,5,10,15,20,25,30,35,40,45,50,55], "tickCount": 20, "title": "NOx Concentration (ppb)", "tickSize": 6, "labelPadding": 2, "titlePadding": 4, "labelFlush": false, "labelOverlap": false, "labelBound": false}},
        "color": {"datum": "NOx", "type": "nominal",
          "scale": {"domain": ["NO", "NO2", "NOx"], "range": ["#000000", "#ff4444", "#00ee00"]},
          "legend": {"orient": "none", "legendX": 667, "legendY": -80, "title": null, "padding": 4,
            "strokeColor": "#808080", "fillColor": "white", "symbolType": "M-1.87,-1M1.87,1M-1.5,0.7L-0.55,-0.7L0.45,0.7L1.5,-0.7",
            "symbolSize": 225, "symbolStrokeWidth": 1, "symbolOffset": 40, "labelOffset": -53, "labelAlign": "left",
            "rowPadding": 5.3, "labelFontSize": 11, "labelFont": "Liberation Sans", "labelColor": "#111"}}
      }
    },
    {
      "mark": {"type": "line", "strokeWidth": 1, "clip": true},
      "encoding": {
        "x": {"field": "m", "type": "quantitative", "axis": null},
        "y": {"field": "NO2", "type": "quantitative"},
        "color": {"datum": "NO2", "type": "nominal"}
      }
    },
    {
      "mark": {"type": "line", "strokeWidth": 1, "clip": true},
      "encoding": {
        "x": {"field": "m", "type": "quantitative", "axis": null},
        "y": {"field": "NO", "type": "quantitative"},
        "color": {"datum": "NO", "type": "nominal"}
      }
    },
    {
      "mark": {"type": "line", "opacity": 0},
      "encoding": {
        "x": {"field": "m", "type": "quantitative",
          "axis": {"orient": "bottom", "labels": false, "title": null, "tickSize": 3, "offset": 2, "domain": false, "tickCount": 200,
            "values": [1,16,31,46,61,76,91,106,136,151,166,181,196,211,226,256,271,286,301,316,331,346,376,391,406,421,436,451,466,496,511,526,541,556,571,586,616,631,646,661,676,691,706,736,751,766,781,796,811,826,856,871,886,901,916,931,946,976,991,1006,1021,1036,1051,1066,1096,1111,1126,1141,1156,1171,1186,1216,1231,1246,1261,1276,1291,1306,1336,1351,1366,1381,1396,1411,1426]}},
        "y": {"field": "NO", "type": "quantitative"}
      }
    },
    {
      "transform": [{"filter": "false"}],
      "mark": {"type": "point", "filled": false, "color": "#6a6a6a"},
      "encoding": {
        "x": {"field": "m", "type": "quantitative", "axis": null},
        "y": {"field": "NO", "type": "quantitative"},
        "shape": {"field": "k", "type": "nominal",
          "scale": {"domain": ["a", "b", "c"], "range": ["M-1.87,-1H1.87V1H-1.87Z", "M-1.87,-1H1.87V1H-1.87Z", "M-1.87,-1H1.87V1H-1.87Z"]},
          "legend": {"orient": "none", "legendX": 667, "legendY": -80, "title": null, "padding": 4,
            "strokeColor": null, "symbolSize": 225, "symbolStrokeWidth": 1, "symbolStrokeColor": "#6a6a6a", "symbolFillColor": "transparent",
            "symbolOpacity": 1, "symbolOffset": 40, "labelOffset": -53, "labelAlign": "left", "labelExpr": "''",
            "rowPadding": 5.3, "labelFontSize": 11}}
      }
    },
    {
      "transform": [{"filter": "false"}],
      "mark": {"type": "point", "filled": true},
      "encoding": {
        "x": {"field": "m", "type": "quantitative", "axis": null},
        "y": {"field": "NO", "type": "quantitative"},
        "fill": {"datum": 0.5, "type": "quantitative",
          "scale": {"domain": [0, 1], "range": ["#ffffff", "#ffffff"]},
          "legend": {"type": "gradient", "orient": "none", "direction": "horizontal", "legendX": -63, "legendY": -11,
            "gradientLength": 798, "gradientThickness": 298, "gradientOpacity": 0, "gradientStrokeWidth": 0,
            "labelExpr": "''", "labelFontSize": 1, "labelOffset": -30, "title": null, "padding": 0, "strokeColor": "#8c8c8c"}}
      }
    }
  ],
  "config": {
    "view": {"stroke": "#333333", "strokeWidth": 1},
    "font": "Liberation Sans",
    "axis": {"labelFont": "Liberation Sans", "labelFontSize": 11, "labelColor": "#111", "titleFont": "Liberation Sans",
      "titleFontSize": 12, "titleFontWeight": "normal", "titleColor": "#111", "grid": false, "domain": false, "tickColor": "#222"}
  }
}
